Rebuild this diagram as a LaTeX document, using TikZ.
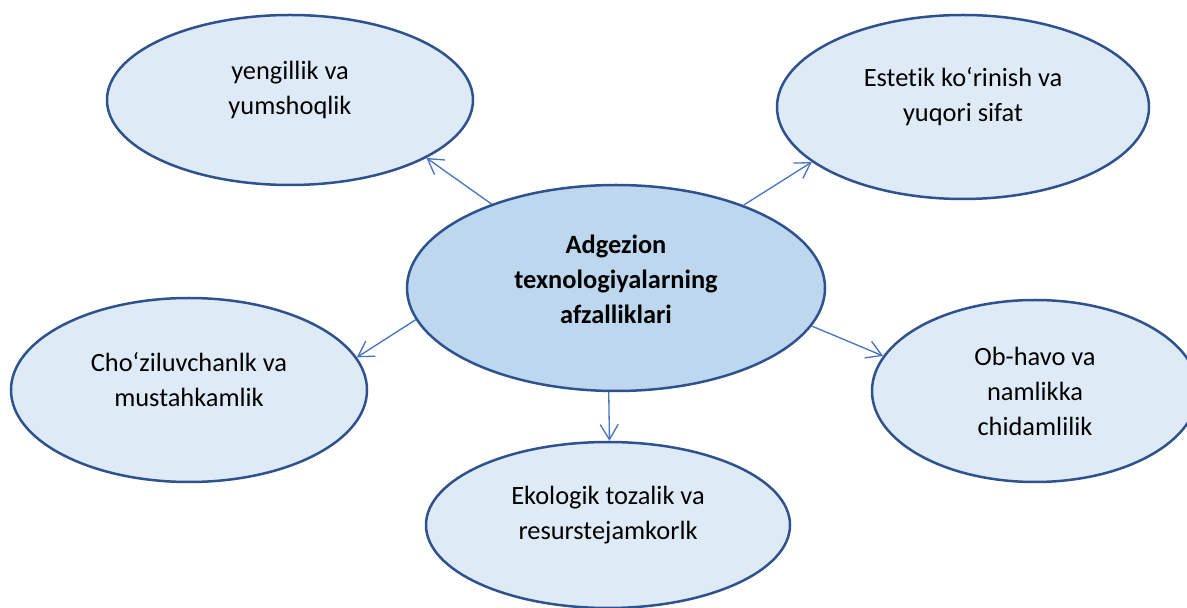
\documentclass[tikz,border=0pt]{standalone}
\usepackage{fontspec}
\setmainfont{Carlito}[Ligatures=NoCommon]
\usetikzlibrary{shapes.geometric,arrows.meta}
\definecolor{rim}{HTML}{2F528F}
\definecolor{pale}{HTML}{DEEBF7}
\definecolor{hub}{HTML}{BDD7EE}
\definecolor{wire}{HTML}{4472C4}

\begin{document}
\begin{tikzpicture}[x=0.5pt,y=-0.5pt,
    bubble/.style={ellipse,draw=rim,line width=1.25pt,fill=pale,inner sep=0pt},
    word/.style={align=center,font=\fontsize{13.2}{17.5}\selectfont},
    link/.style={draw=wire,line width=0.65pt,-{Straight Barb[length=7.5pt,width=9pt]}}]
    \useasboundingbox (0,0) rectangle (1187,608);
    \clip (0,0) rectangle (1187,608);

    \node[bubble,minimum width=183pt,minimum height=85pt] (light) at (290,100) {};
    \node[bubble,minimum width=186pt,minimum height=92pt] (look) at (963,107) {};
    \node[bubble,fill=hub,minimum width=209pt,minimum height=103pt] (hubnode) at (616,288) {};
    \node[bubble,minimum width=178pt,minimum height=92pt] (stretch) at (189,390) {};
    \node[bubble,minimum width=182pt,minimum height=83pt] (eco) at (608,525) {};
    \node[bubble,minimum width=163pt,minimum height=91pt] (weather) at (1035,391) {};

    \node[word] (light-t) at ([yshift=5pt]light.center) {yengillik va\\yumshoqlik};
    \node[word] (look-t) at ([yshift=5pt]look.center) {Estetik ko‘rinish va\\yuqori sifat};
    \node[word,font=\fontsize{13.2}{17.5}\selectfont\bfseries] (hub-t) at ([yshift=4.5pt]hubnode.center) {Adgezion\\texnologiyalarning\\afzalliklari};
    \node[word] (stretch-t) at ([yshift=5pt]stretch.center) {Cho‘ziluvchanlk va\\mustahkamlik};
    \node[word] (eco-t) at ([yshift=5pt]eco.center) {Ekologik tozalik va\\resurstejamkorlk};
    \node[word] (weather-t) at (weather.center) {Ob-havo va\\namlikka\\chidamlilik};

    \draw[link] (hubnode.146) -- (light.337.5);
    \draw[link] (hubnode.33.7) -- (look.200.7);
    \draw[link] (hubnode.189.6) -- (stretch.11.5);
    \draw[link] (hubnode.266.7) -- (eco.89);
    \draw[link] (hubnode.349.7) -- (weather.167.8);
\end{tikzpicture}
\end{document}
